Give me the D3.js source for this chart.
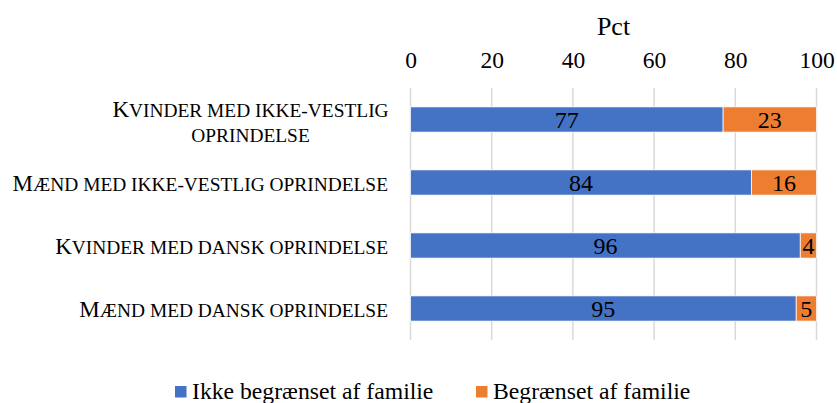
<!DOCTYPE html>
<html><head><meta charset="utf-8">
<script src="https://cdn.jsdelivr.net/npm/d3@7"></script>
<style>
html,body{margin:0;padding:0;background:#fff;}
svg{display:block;}
svg text{font-family:"Liberation Serif","Times New Roman",Times,serif;}
</style></head>
<body><svg id="chart" width="837" height="403"></svg>
<script>
const categories = [
  ["Kvinder med ikke-vestlig", "oprindelse"],
  ["Mænd med ikke-vestlig oprindelse"],
  ["Kvinder med dansk oprindelse"],
  ["Mænd med dansk oprindelse"]
];
const seriesNames = ["Ikke begrænset af familie", "Begrænset af familie"];
const notLimited = [77, 84, 96, 95];
const limited = [23, 16, 4, 5];
const tickValues = [0, 20, 40, 60, 80, 100];
const colors = ["#4472C4", "#ED7D31"];

const svg = d3.select("#chart");
const x = d3.scaleLinear().domain([0, 100]).range([410.5, 816.5]);
const y = d3.scaleBand().domain(d3.range(categories.length)).range([88, 340]).paddingInner(0.6).paddingOuter(0.3);

// gridlines
svg.append("g").selectAll("line").data(tickValues).join("line")
  .attr("x1", d => x(d)).attr("x2", d => x(d))
  .attr("y1", 88).attr("y2", 340)
  .attr("stroke", "#D9D9D9").attr("stroke-width", 1.5);

// top axis
const axis = svg.append("g").attr("transform", "translate(0,88)")
  .call(d3.axisTop(x).tickValues(tickValues).tickSize(0).tickPadding(0));
axis.attr("font-family", null);
axis.select(".domain").remove();
axis.selectAll("text").attr("font-size", 23.5)
  .attr("fill", "#000").attr("y", -20).attr("dy", 0);

svg.append("text").attr("x", x(50)).attr("y", 34.5).attr("text-anchor", "middle")
  .attr("font-size", 26).attr("fill", "#000").text("Pct");

// stacked data
const rows = categories.map((c, i) => ({i, v: [notLimited[i], limited[i]]}));
const stack = d3.stack().keys([0, 1]).value((d, k) => d.v[k])(rows);

stack.forEach((layer, k) => {
  const g = svg.append("g");
  g.selectAll("rect").data(layer).join("rect")
    .attr("x", d => x(d[0])).attr("width", d => x(d[1]) - x(d[0]))
    .attr("y", d => y(d.data.i)).attr("height", y.bandwidth())
    .attr("fill", colors[k]).attr("stroke", "#fff").attr("stroke-width", 0.75);
  g.selectAll("text").data(layer).join("text")
    .attr("x", d => (x(d[0]) + x(d[1])) / 2)
    .attr("y", d => y(d.data.i) + y.bandwidth() / 2 + 8.5)
    .attr("text-anchor", "middle").attr("font-size", 24).attr("fill", "#000")
    .text(d => d.data.v[k]);
});

// category labels in small caps: uppercase at reduced size, initial capital at full size
function label(ln, xPos, yPos, anchor) {
  const t = svg.append("text").attr("x", xPos).attr("y", yPos).attr("text-anchor", anchor)
    .attr("font-size", 19.4).attr("fill", "#000").style("text-transform", "uppercase");
  const c0 = ln[0];
  if (c0 === c0.toUpperCase() && c0 !== c0.toLowerCase()) {
    t.append("tspan").attr("font-size", 23).text(c0);
    t.append("tspan").text(ln.slice(1));
  } else {
    t.text(ln);
  }
}
categories.forEach((lines, i) => {
  const cy = y(i) + y.bandwidth() / 2;
  if (lines.length === 1) {
    label(lines[0], 388, cy + 8.5, "end");
  } else {
    lines.forEach((ln, j) => label(ln, 250.5, cy - 2.5 + j * 25, "middle"));
  }
});

// legend
const legendX = [175, 476];
seriesNames.forEach((name, k) => {
  svg.append("rect").attr("x", legendX[k]).attr("y", 386).attr("width", 11.5).attr("height", 11.5)
    .attr("fill", colors[k]);
  svg.append("text").attr("x", legendX[k] + 17).attr("y", 398.5).attr("font-size", 23.7)
    .attr("fill", "#000").text(name);
});
</script></body></html>
